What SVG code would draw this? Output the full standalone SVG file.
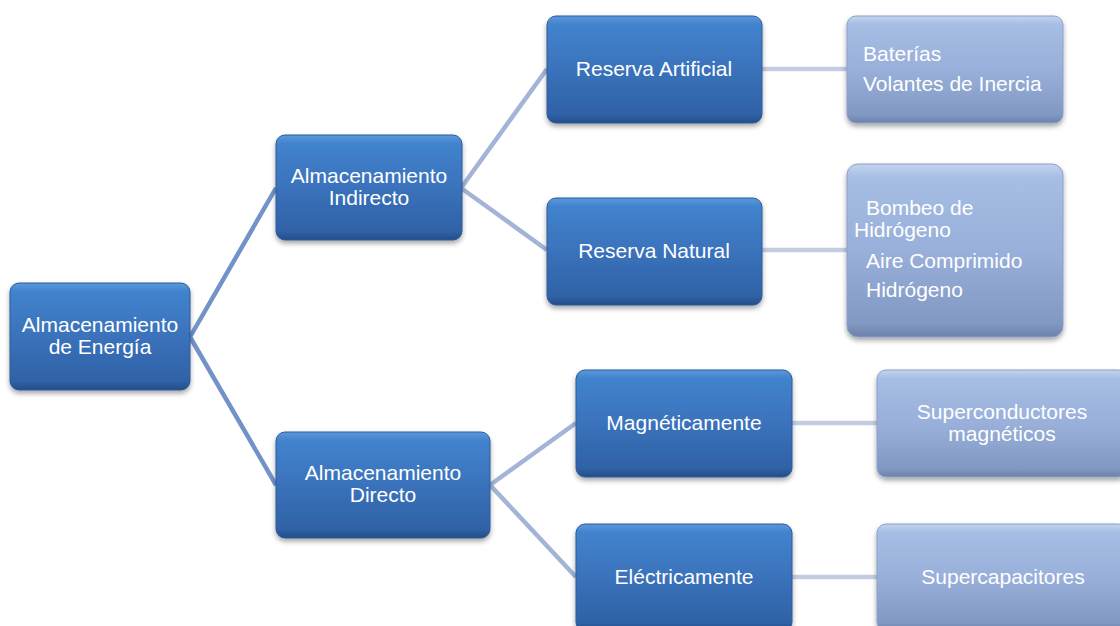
<svg xmlns="http://www.w3.org/2000/svg" width="1120" height="626" viewBox="0 0 1120 626">
<defs>
<linearGradient id="gDark" x1="0" y1="0" x2="0" y2="1">
<stop offset="0" stop-color="#5b98dc"/>
<stop offset="0.08" stop-color="#4283cd"/>
<stop offset="0.5" stop-color="#3a72bb"/>
<stop offset="0.92" stop-color="#2f62a6"/>
<stop offset="1" stop-color="#244d88"/>
</linearGradient>
<linearGradient id="gLight" x1="0" y1="0" x2="0" y2="1">
<stop offset="0" stop-color="#c2d4f0"/>
<stop offset="0.08" stop-color="#a6bee4"/>
<stop offset="0.5" stop-color="#98b0da"/>
<stop offset="0.92" stop-color="#8198c2"/>
<stop offset="1" stop-color="#6c82ab"/>
</linearGradient>
<filter id="shadow" x="-10%" y="-10%" width="120%" height="130%">
<feDropShadow dx="0" dy="3" stdDeviation="2.5" flood-color="#000" flood-opacity="0.35"/>
</filter>
<style>
.dark{fill:url(#gDark);stroke:#2c5a98;stroke-width:1;filter:url(#shadow);}
.light{fill:url(#gLight);stroke:#8aa0c8;stroke-width:1;filter:url(#shadow);}
text{font-family:"Liberation Sans",Arial,sans-serif;font-size:21px;fill:#ffffff;}
.c{text-anchor:middle;}
.l1{stroke:#7393c8;stroke-width:4.5;fill:none;}
.l2{stroke:#a3b4d6;stroke-width:4.5;fill:none;}
.l3{stroke:#c3cde2;stroke-width:4.5;fill:none;}
</style>
</defs>
<g id="connectors">
<path class="l1" d="M190,337 L276,188 M190,337 L276,485"/>
<path class="l2" d="M461,188 L547,69 M461,188 L547,250"/>
<path class="l2" d="M490,485 L576,423 M490,485 L576,577"/>
<path class="l3" d="M762,69 L847,69 M762,250 L847,250 M792,423 L877,423 M792,577 L877,577"/>
</g>
<g id="n-energia">
<rect class="dark" x="10" y="283" width="180" height="107" rx="9"/>
<text class="c" x="100" y="332">Almacenamiento</text>
<text class="c" x="100" y="354">de Energía</text>
</g>
<g id="n-indirecto">
<rect class="dark" x="276" y="135" width="186" height="105" rx="9"/>
<text class="c" x="369" y="183">Almacenamiento</text>
<text class="c" x="369" y="205">Indirecto</text>
</g>
<g id="n-directo">
<rect class="dark" x="276" y="432" width="214" height="106" rx="9"/>
<text class="c" x="383" y="480">Almacenamiento</text>
<text class="c" x="383" y="502">Directo</text>
</g>
<g id="n-artificial">
<rect class="dark" x="547" y="16" width="215" height="107" rx="9"/>
<text class="c" x="654" y="76">Reserva Artificial</text>
</g>
<g id="n-natural">
<rect class="dark" x="547" y="198" width="215" height="107" rx="9"/>
<text class="c" x="654" y="258">Reserva Natural</text>
</g>
<g id="n-magnet">
<rect class="dark" x="576" y="370" width="216" height="107" rx="9"/>
<text class="c" x="684" y="430">Magnéticamente</text>
</g>
<g id="n-electr">
<rect class="dark" x="576" y="524" width="216" height="107" rx="9"/>
<text class="c" x="684" y="584">Eléctricamente</text>
</g>
<g id="n-baterias">
<rect class="light" x="847" y="16" width="216" height="107" rx="9"/>
<text x="863" y="61">Baterías</text>
<text x="863" y="91">Volantes de Inercia</text>
</g>
<g id="n-bombeo">
<rect class="light" x="847" y="164" width="216" height="173" rx="11"/>
<text x="866" y="215">Bombeo de</text>
<text x="854" y="237">Hidrógeno</text>
<text x="866" y="268">Aire Comprimido</text>
<text x="866" y="297">Hidrógeno</text>
</g>
<g id="n-supercond">
<rect class="light" x="877" y="370" width="250" height="107" rx="9"/>
<text class="c" x="1002" y="419">Superconductores</text>
<text class="c" x="1002" y="441">magnéticos</text>
</g>
<g id="n-supercap">
<rect class="light" x="877" y="524" width="250" height="107" rx="9"/>
<text class="c" x="1003" y="584">Supercapacitores</text>
</g>
</svg>
